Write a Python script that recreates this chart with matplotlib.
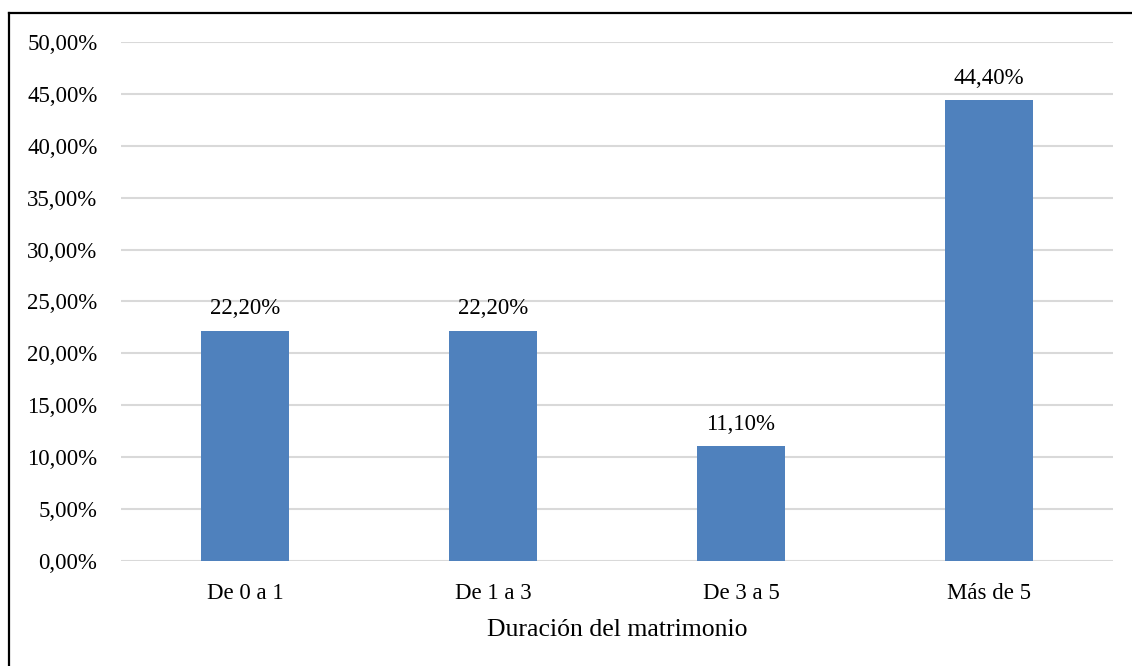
import matplotlib
matplotlib.use("Agg")
import matplotlib.pyplot as plt
from matplotlib.lines import Line2D
from matplotlib.ticker import FuncFormatter, MultipleLocator

categories = ["De 0 a 1", "De 1 a 3", "De 3 a 5", "Más de 5"]
values = [22.2, 22.2, 11.1, 44.4]
x_title = "Duración del matrimonio"

plt.rcParams['font.family'] = ['Liberation Serif', 'DejaVu Serif']

W, H = 1132, 666
fig = plt.figure(figsize=(W / 100, H / 100), dpi=100)
ax = fig.add_axes([121 / W, 1 - 561 / H, (1113 - 121) / W, (561 - 42) / H])

x = list(range(len(categories)))
bars = ax.bar(x, values, width=0.355, color="#4f81bd", zorder=3)

ax.set_xlim(-0.5, len(categories) - 0.5)
ax.set_ylim(0, 50)
ax.yaxis.set_major_locator(MultipleLocator(5))
ax.yaxis.set_major_formatter(FuncFormatter(lambda v, p: f"{v:.2f}".replace(".", ",") + "%"))
ax.set_xticks(x)
ax.set_xticklabels(categories)
ax.tick_params(axis="both", length=0, labelsize=16.5, colors="black")
ax.tick_params(axis="y", pad=17)
ax.tick_params(axis="x", pad=16)
ax.grid(axis="y", color="#d9d9d9", linewidth=1.5, zorder=0)
for s in ax.spines.values():
    s.set_visible(False)

for xi, v in zip(x, values):
    ax.annotate(f"{v:.2f}".replace(".", ",") + "%", (xi, v), xytext=(0, 8),
                textcoords="offset points", ha="center", va="bottom", fontsize=16.5)

ax.set_xlabel(x_title, fontsize=18.5, labelpad=11)

fig.add_artist(Line2D([9 / W, 9 / W], [0, 1 - 13 / H], color="black", linewidth=1.6, transform=fig.transFigure))
fig.add_artist(Line2D([9 / W, 1], [1 - 13 / H, 1 - 13 / H], color="black", linewidth=1.6, transform=fig.transFigure))

fig.savefig("out.png", dpi=100, facecolor="white")
